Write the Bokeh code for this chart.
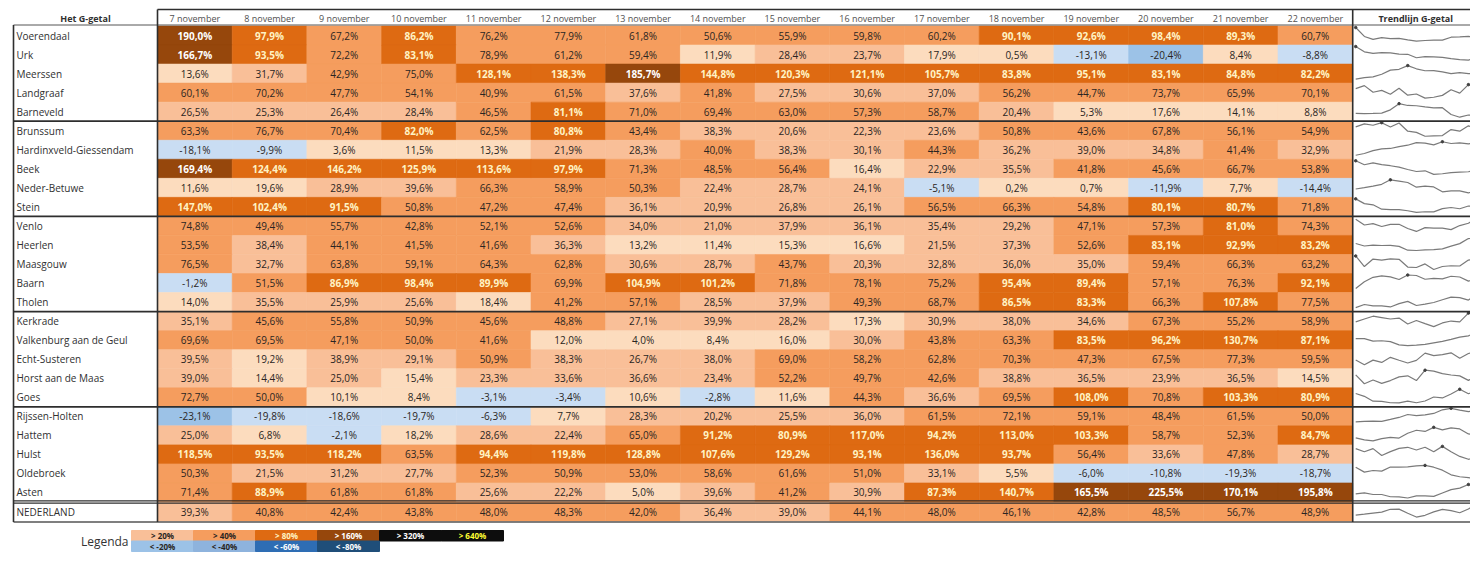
from bokeh.plotting import figure
from bokeh.models import Range1d
from bokeh.embed import file_html
from bokeh.resources import INLINE
from bokeh.core.properties import value

# ---------------- data ----------------
dates = ["7 november", "8 november", "9 november", "10 november", "11 november",
         "12 november", "13 november", "14 november", "15 november", "16 november",
         "17 november", "18 november", "19 november", "20 november", "21 november",
         "22 november"]

municipalities = ["Voerendaal", "Urk", "Meerssen", "Landgraaf", "Barneveld",
                  "Brunssum", "Hardinxveld-Giessendam", "Beek", "Neder-Betuwe", "Stein",
                  "Venlo", "Heerlen", "Maasgouw", "Baarn", "Tholen",
                  "Kerkrade", "Valkenburg aan de Geul", "Echt-Susteren", "Horst aan de Maas", "Goes",
                  "Rijssen-Holten", "Hattem", "Hulst", "Oldebroek", "Asten",
                  "NEDERLAND"]

voerendaal = [190.0, 97.9, 67.2, 86.2, 76.2, 77.9, 61.8, 50.6, 55.9, 59.8, 60.2, 90.1, 92.6, 98.4, 89.3, 60.7]
urk = [166.7, 93.5, 72.2, 83.1, 78.9, 61.2, 59.4, 11.9, 28.4, 23.7, 17.9, 0.5, -13.1, -20.4, 8.4, -8.8]
meerssen = [13.6, 31.7, 42.9, 75.0, 128.1, 138.3, 185.7, 144.8, 120.3, 121.1, 105.7, 83.8, 95.1, 83.1, 84.8, 82.2]
landgraaf = [60.1, 70.2, 47.7, 54.1, 40.9, 61.5, 37.6, 41.8, 27.5, 30.6, 37.0, 56.2, 44.7, 73.7, 65.9, 70.1]
barneveld = [26.5, 25.3, 26.4, 28.4, 46.5, 81.1, 71.0, 69.4, 63.0, 57.3, 58.7, 20.4, 5.3, 17.6, 14.1, 8.8]
brunssum = [63.3, 76.7, 70.4, 82.0, 62.5, 80.8, 43.4, 38.3, 20.6, 22.3, 23.6, 50.8, 43.6, 67.8, 56.1, 54.9]
hardinxveld = [-18.1, -9.9, 3.6, 11.5, 13.3, 21.9, 28.3, 40.0, 38.3, 30.1, 44.3, 36.2, 39.0, 34.8, 41.4, 32.9]
beek = [169.4, 124.4, 146.2, 125.9, 113.6, 97.9, 71.3, 48.5, 56.4, 16.4, 22.9, 35.5, 41.8, 45.6, 66.7, 53.8]
neder_betuwe = [11.6, 19.6, 28.9, 39.6, 66.3, 58.9, 50.3, 22.4, 28.7, 24.1, -5.1, 0.2, 0.7, -11.9, 7.7, -14.4]
stein = [147.0, 102.4, 91.5, 50.8, 47.2, 47.4, 36.1, 20.9, 26.8, 26.1, 56.5, 66.3, 54.8, 80.1, 80.7, 71.8]
venlo = [74.8, 49.4, 55.7, 42.8, 52.1, 52.6, 34.0, 21.0, 37.9, 36.1, 35.4, 29.2, 47.1, 57.3, 81.0, 74.3]
heerlen = [53.5, 38.4, 44.1, 41.5, 41.6, 36.3, 13.2, 11.4, 15.3, 16.6, 21.5, 37.3, 52.6, 83.1, 92.9, 83.2]
maasgouw = [76.5, 32.7, 63.8, 59.1, 64.3, 62.8, 30.6, 28.7, 43.7, 20.3, 32.8, 36.0, 35.0, 59.4, 66.3, 63.2]
baarn = [-1.2, 51.5, 86.9, 98.4, 89.9, 69.9, 104.9, 101.2, 71.8, 78.1, 75.2, 95.4, 89.4, 57.1, 76.3, 92.1]
tholen = [14.0, 35.5, 25.9, 25.6, 18.4, 41.2, 57.1, 28.5, 37.9, 49.3, 68.7, 86.5, 83.3, 66.3, 107.8, 77.5]
kerkrade = [35.1, 45.6, 55.8, 50.9, 45.6, 48.8, 27.1, 39.9, 28.2, 17.3, 30.9, 38.0, 34.6, 67.3, 55.2, 58.9]
valkenburg = [69.6, 69.5, 47.1, 50.0, 41.6, 12.0, 4.0, 8.4, 16.0, 30.0, 43.8, 63.3, 83.5, 96.2, 130.7, 87.1]
echt_susteren = [39.5, 19.2, 38.9, 29.1, 50.9, 38.3, 26.7, 38.0, 69.0, 58.2, 62.8, 70.3, 47.3, 67.5, 77.3, 59.5]
horst = [39.0, 14.4, 25.0, 15.4, 23.3, 33.6, 36.6, 23.4, 52.2, 49.7, 42.6, 38.8, 36.5, 23.9, 36.5, 14.5]
goes = [72.7, 50.0, 10.1, 8.4, -3.1, -3.4, 10.6, -2.8, 11.6, 44.3, 36.6, 69.5, 108.0, 70.8, 103.3, 80.9]
rijssen_holten = [-23.1, -19.8, -18.6, -19.7, -6.3, 7.7, 28.3, 20.2, 25.5, 36.0, 61.5, 72.1, 59.1, 48.4, 61.5, 50.0]
hattem = [25.0, 6.8, -2.1, 18.2, 28.6, 22.4, 65.0, 91.2, 80.9, 117.0, 94.2, 113.0, 103.3, 58.7, 52.3, 84.7]
hulst = [118.5, 93.5, 118.2, 63.5, 94.4, 119.8, 128.8, 107.6, 129.2, 93.1, 136.0, 93.7, 56.4, 33.6, 47.8, 28.7]
oldebroek = [50.3, 21.5, 31.2, 27.7, 52.3, 50.9, 53.0, 58.6, 61.6, 51.0, 33.1, 5.5, -6.0, -10.8, -19.3, -18.7]
asten = [71.4, 88.9, 61.8, 61.8, 25.6, 22.2, 5.0, 39.6, 41.2, 30.9, 87.3, 140.7, 165.5, 225.5, 170.1, 195.8]
nederland = [39.3, 40.8, 42.4, 43.8, 48.0, 48.3, 42.0, 36.4, 39.0, 44.1, 48.0, 46.1, 42.8, 48.5, 56.7, 48.9]

rows = [voerendaal, urk, meerssen, landgraaf, barneveld,
        brunssum, hardinxveld, beek, neder_betuwe, stein,
        venlo, heerlen, maasgouw, baarn, tholen,
        kerkrade, valkenburg, echt_susteren, horst, goes,
        rijssen_holten, hattem, hulst, oldebroek, asten,
        nederland]

legend_pos_labels = ["> 20%", "> 40%", "> 80%", "> 160%", "> 320%", "> 640%"]
legend_neg_labels = ["< -20%", "< -40%", "< -60%", "< -80%"]

# ---------------- styles ----------------
FONT = "Open Sans"
DARK_TXT = "#2a2522"

C_NEG80, C_NEG60, C_NEG40, C_NEG20, C_NEG0 = "#1f4e79", "#2e6db4", "#8eb3dd", "#9cc2e7", "#c9ddf3"
C_P0, C_P20, C_P40, C_P80, C_P160, C_P320 = "#fcdcbe", "#f9bf98", "#f59d5e", "#de6a12", "#96470c", "#0d0d0d"


def cell_style(v):
    if v < -80:
        return C_NEG80, "#ffffff", "bold"
    if v < -60:
        return C_NEG60, "#ffffff", "bold"
    if v < -40:
        return C_NEG40, DARK_TXT, "normal"
    if v < -20:
        return C_NEG20, DARK_TXT, "normal"
    if v < 0:
        return C_NEG0, DARK_TXT, "normal"
    if v < 20:
        return C_P0, DARK_TXT, "normal"
    if v < 40:
        return C_P20, DARK_TXT, "normal"
    if v < 80:
        return C_P40, DARK_TXT, "normal"
    if v < 160:
        return C_P80, "#fff3c4", "bold"
    if v < 320:
        return C_P160, "#ffffff", "bold"
    if v < 640:
        return C_P320, "#ffffff", "bold"
    return C_P320, "#ffff33", "bold"


def fmt(v):
    return f"{v:.1f}".replace(".", ",") + "%"


# geometry (image pixel coordinates)
X_LAB = 13.0
X_DAT = 157.0
COL_W = 74.7
N_COL = len(dates)
X_TRD = X_DAT + N_COL * COL_W
X_END = 1470.0
Y_HEAD = 9.0
Y_ROW0 = 25.5
ROW_H = 19.04
N_ROW = len(municipalities)
Y_BOT = Y_ROW0 + N_ROW * ROW_H

p = figure(width=1470, height=557, output_backend="svg", toolbar_location=None,
           x_range=Range1d(0, 1470), y_range=Range1d(557, 0),
           min_border=0, min_border_left=0, min_border_right=0,
           min_border_top=0, min_border_bottom=0)
p.axis.visible = False
p.grid.visible = False
p.outline_line_color = None
p.background_fill_color = "white"
p.border_fill_color = "white"

# ---------------- cells ----------------
L, R, T, B, FC = [], [], [], [], []
tx_d, ty_d, tt_d = [], [], []
tx_l, ty_l, tt_l, tc_l = [], [], [], []
for i, vals in enumerate(rows):
    top = Y_ROW0 + i * ROW_H
    for j, v in enumerate(vals):
        left = X_DAT + j * COL_W
        fc, tc, fs = cell_style(v)
        L.append(left); R.append(left + COL_W); T.append(top); B.append(top + ROW_H); FC.append(fc)
        cx = left + COL_W / 2
        cy = top + ROW_H / 2
        if fs == "bold":
            tx_l.append(cx); ty_l.append(cy); tt_l.append(fmt(v)); tc_l.append(tc)
        else:
            tx_d.append(cx); ty_d.append(cy); tt_d.append(fmt(v))

p.quad(left=L, right=R, top=T, bottom=B, fill_color=FC, line_color=FC, line_width=0.6)

p.text(x=tx_d, y=ty_d, text=tt_d, text_align="center", text_baseline="middle",
       text_font=value(FONT), text_font_size="10px", text_color=DARK_TXT)
p.text(x=tx_l, y=ty_l, text=tt_l, text_align="center", text_baseline="middle",
       text_font=value(FONT), text_font_size="10px", text_color=tc_l, text_font_style="bold")

# row labels
p.text(x=[X_LAB + 3] * N_ROW, y=[Y_ROW0 + (i + 0.5) * ROW_H for i in range(N_ROW)],
       text=municipalities, text_align="left", text_baseline="middle",
       text_font=value(FONT), text_font_size="10px", text_color="#303030")

# header
p.text(x=[X_DAT + (j + 0.5) * COL_W for j in range(N_COL)], y=[(Y_HEAD + Y_ROW0) / 2 + 0.5] * N_COL,
       text=dates, text_align="center", text_baseline="middle",
       text_font=value(FONT), text_font_size="9px", text_color="#505050")
p.text(x=[(X_LAB + X_DAT) / 2], y=[(Y_HEAD + Y_ROW0) / 2 + 0.5], text=["Het G-getal"],
       text_align="center", text_baseline="middle", text_font=value(FONT),
       text_font_size="9px", text_font_style="bold", text_color="#303030")
p.text(x=[X_TRD + 63], y=[(Y_HEAD + Y_ROW0) / 2 + 0.5], text=["Trendlijn G-getal"],
       text_align="center", text_baseline="middle", text_font=value(FONT),
       text_font_size="9px", text_font_style="bold", text_color="#303030")

# ---------------- sparklines ----------------
SPK_X0 = X_TRD + 3
SPK_DX = 8.67
xs_all, ys_all, mx, my = [], [], [], []
for i, vals in enumerate(rows):
    top = Y_ROW0 + i * ROW_H
    lo, hi = min(vals), max(vals)
    y_hi = top + 1.5
    y_lo = top + ROW_H - 4
    xs = [SPK_X0 + k * SPK_DX for k in range(len(vals))]
    ys = [y_lo - (v - lo) / (hi - lo) * (y_lo - y_hi) for v in vals]
    xs_all.append(xs); ys_all.append(ys)
    k = vals.index(hi)
    mx.append(xs[k]); my.append(ys[k])
p.multi_line(xs=xs_all, ys=ys_all, line_color="#7a7a7a", line_width=1.2)
p.scatter(x=mx, y=my, size=2.5, color="#404040")

# ---------------- borders ----------------
LC = "#2e2e2e"
p.segment(x0=[X_DAT], y0=[Y_HEAD], x1=[X_END], y1=[Y_HEAD], line_color=LC, line_width=1.6)
p.segment(x0=[X_LAB], y0=[Y_ROW0 - 1], x1=[X_END], y1=[Y_ROW0 - 1], line_color="#555555", line_width=1.0)
grp_y = [Y_ROW0 + g * ROW_H for g in (5, 10, 15, 20)]
p.segment(x0=[X_LAB] * 4, y0=grp_y, x1=[X_END] * 4, y1=grp_y, line_color=LC, line_width=1.8)
yn = Y_ROW0 + 25 * ROW_H
p.segment(x0=[X_LAB, X_LAB], y0=[yn - 1.2, yn + 1.2], x1=[X_END, X_END], y1=[yn - 1.2, yn + 1.2],
          line_color=LC, line_width=1.2)
p.segment(x0=[X_LAB], y0=[Y_BOT + 1], x1=[X_END], y1=[Y_BOT + 1], line_color="#555555", line_width=1.6)
p.segment(x0=[X_LAB, X_DAT, X_TRD], y0=[Y_ROW0 - 1, Y_HEAD, Y_HEAD],
          x1=[X_LAB, X_DAT, X_TRD], y1=[Y_BOT + 1] * 3, line_color=LC, line_width=1.6)

# ---------------- legend ----------------
LG_X0 = 131.0
LG_W = 62.0
LG_T = 530.0
LG_H = 10.5
pos_fill = [C_P20, C_P40, C_P80, C_P160, C_P320, C_P320]
pos_txt = [DARK_TXT, DARK_TXT, "#fff3c4", "#ffffff", "#ffffff", "#ffff33"]
neg_fill = [C_NEG20, C_NEG40, C_NEG60, C_NEG80]
neg_txt = [DARK_TXT, DARK_TXT, "#ffffff", "#ffffff"]
npos, nneg = len(legend_pos_labels), len(legend_neg_labels)
p.quad(left=[LG_X0 + k * LG_W for k in range(npos)], right=[LG_X0 + (k + 1) * LG_W for k in range(npos)],
       top=[LG_T] * npos, bottom=[LG_T + LG_H] * npos, fill_color=pos_fill, line_color=pos_fill)
p.quad(left=[LG_X0 + k * LG_W for k in range(nneg)], right=[LG_X0 + (k + 1) * LG_W for k in range(nneg)],
       top=[LG_T + LG_H] * nneg, bottom=[LG_T + 2 * LG_H] * nneg, fill_color=neg_fill, line_color=neg_fill)
p.text(x=[LG_X0 + (k + 0.5) * LG_W for k in range(npos)], y=[LG_T + LG_H / 2] * npos,
       text=legend_pos_labels, text_align="center", text_baseline="middle", text_font=value(FONT),
       text_font_size="8px", text_font_style="bold", text_color=pos_txt)
p.text(x=[LG_X0 + (k + 0.5) * LG_W for k in range(nneg)], y=[LG_T + 1.5 * LG_H] * nneg,
       text=legend_neg_labels, text_align="center", text_baseline="middle", text_font=value(FONT),
       text_font_size="8px", text_font_style="bold", text_color=neg_txt)
p.text(x=[LG_X0 - 3], y=[LG_T + LG_H + 0.5], text=["Legenda"], text_align="right", text_baseline="middle",
       text_font=value(FONT), text_font_size="12px", text_color="#333333")

open("out.html", "w").write(file_html(p, INLINE))
